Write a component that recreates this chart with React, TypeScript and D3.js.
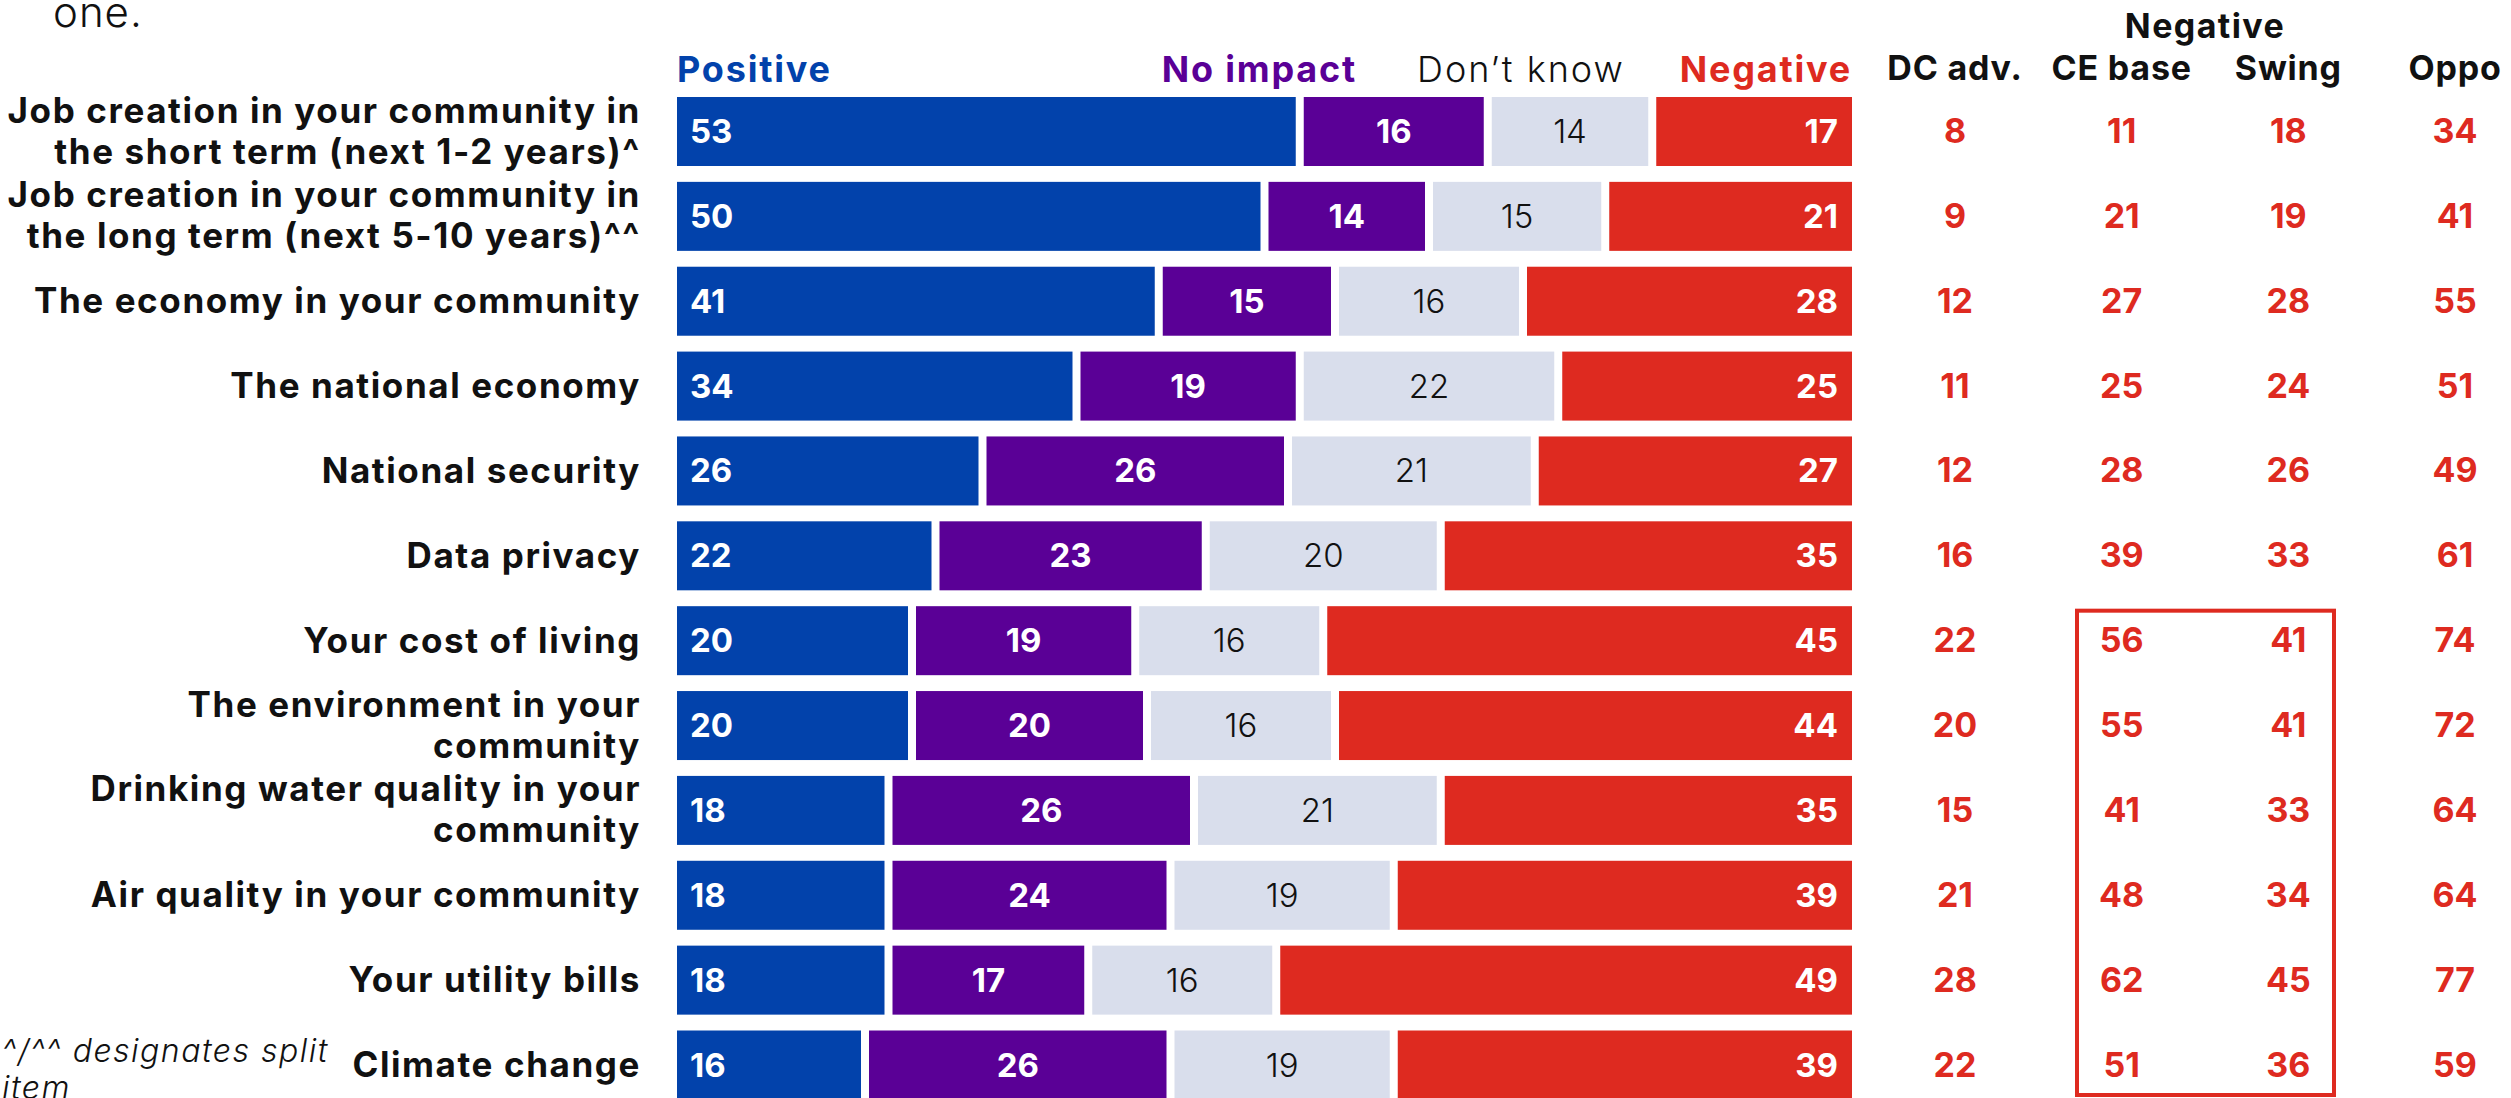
import React from "react";
import * as d3 from "d3";

const labels: string[][] = [
  ["Job creation in your community in", "the short term (next 1-2 years)^"],
  ["Job creation in your community in", "the long term (next 5-10 years)^^"],
  ["The economy in your community"],
  ["The national economy"],
  ["National security"],
  ["Data privacy"],
  ["Your cost of living"],
  ["The environment in your", "community"],
  ["Drinking water quality in your", "community"],
  ["Air quality in your community"],
  ["Your utility bills"],
  ["Climate change"],
];
const positive = [53, 50, 41, 34, 26, 22, 20, 20, 18, 18, 18, 16];
const noImpact = [16, 14, 15, 19, 26, 23, 19, 20, 26, 24, 17, 26];
const dontKnow = [14, 15, 16, 22, 21, 20, 16, 16, 21, 19, 16, 19];
const negative = [17, 21, 28, 25, 27, 35, 45, 44, 35, 39, 49, 39];
const dcAdv = [8, 9, 12, 11, 12, 16, 22, 20, 15, 21, 28, 22];
const ceBase = [11, 21, 27, 25, 28, 39, 56, 55, 41, 48, 62, 51];
const swing = [18, 19, 28, 24, 26, 33, 41, 41, 33, 34, 45, 36];
const oppo = [34, 41, 55, 51, 49, 61, 74, 72, 64, 64, 77, 59];
const segNames = ["Positive", "No impact", "Don\u2019t know", "Negative"];
const colNames = ["DC adv.", "CE base", "Swing", "Oppo"];

const BLUE = "#0242ab";
const PURPLE = "#5a0096";
const GRAY = "#d9deec";
const RED = "#de2a20";
const FONT = "Inter, 'Noto Sans', sans-serif";

export default function App() {
  const W = 2511, H = 1098;
  const x = d3.scaleLinear().domain([0, 100]).range([677, 1852]);
  const y = d3.scalePoint<number>().domain(d3.range(12)).range([131.5, 1065]);
  const colX = d3.scalePoint<number>().domain(d3.range(4)).range([1955, 2455]);
  const barH = 69;
  const gap = 8;
  const series = [positive, noImpact, dontKnow, negative];
  const fills = [BLUE, PURPLE, GRAY, RED];
  const cols = [dcAdv, ceBase, swing, oppo];
  const LS = 1.6;

  return (
    <svg width={W} height={H} style={{ position: "absolute", left: 0, top: 0, background: "#fff" }} fontFamily={FONT}>
      <text x={53} y={27} fontSize={42} fontWeight={300} fill="#111" letterSpacing={1}>one.</text>

      {/* headers */}
      <text x={x(0)} y={82} fontSize={36} fontWeight={700} fill={BLUE} letterSpacing={1.8}>{segNames[0]}</text>
      <text x={1357} y={82} fontSize={36} fontWeight={700} fill={PURPLE} textAnchor="end" letterSpacing={1.8}>{segNames[1]}</text>
      <text x={1417} y={82} fontSize={36} fontWeight={300} fill="#111" letterSpacing={2}>{segNames[2]}</text>
      <text x={x(100)} y={82} fontSize={36} fontWeight={700} fill={RED} textAnchor="end" letterSpacing={1.8}>{segNames[3]}</text>

      <text x={(colX(1)! + colX(2)!) / 2} y={38} fontSize={34} fontWeight={700} fill="#111" textAnchor="middle" letterSpacing={1.4}>Negative</text>
      {colNames.map((c, j) => (
        <text key={c} x={colX(j)} y={80} fontSize={34} fontWeight={700} fill="#111" textAnchor="middle" letterSpacing={0.8}>{c}</text>
      ))}

      {labels.map((lab, i) => {
        const cy = y(i)!;
        let cum = 0;
        return (
          <g key={i}>
            {lab.length === 1 ? (
              <text x={641} y={cy + 12} fontSize={35} fontWeight={700} fill="#111" textAnchor="end" letterSpacing={LS}>{lab[0]}</text>
            ) : (
              <>
                <text x={641} y={cy - 9} fontSize={35} fontWeight={700} fill="#111" textAnchor="end" letterSpacing={LS}>{lab[0]}</text>
                <text x={641} y={cy + 32} fontSize={35} fontWeight={700} fill="#111" textAnchor="end" letterSpacing={LS}>{lab[1]}</text>
              </>
            )}
            {series.map((s, k) => {
              const v = s[i];
              const x0 = x(cum) + (k > 0 ? gap / 2 : 0);
              const x1 = x(cum + v) - (k < 3 ? gap / 2 : 0);
              cum += v;
              let tx = (x0 + x1) / 2;
              let anchor: "start" | "middle" | "end" = "middle";
              if (k === 0) { tx = x0 + 13; anchor = "start"; }
              if (k === 3) { tx = x1 - 14; anchor = "end"; }
              return (
                <g key={k}>
                  <rect x={x0} y={cy - barH / 2} width={x1 - x0} height={barH} fill={fills[k]} />
                  <text x={tx} y={cy + 11.5} fontSize={33} fontWeight={k === 2 ? 300 : 700}
                    fill={k === 2 ? "#111" : "#fff"} textAnchor={anchor}>{v}</text>
                </g>
              );
            })}
            {cols.map((c, j) => (
              <text key={j} x={colX(j)} y={cy + 11.5} fontSize={34} fontWeight={700} fill={RED} textAnchor="middle">{c[i]}</text>
            ))}
          </g>
        );
      })}

      <rect x={2077} y={y(6)! - 30} width={2334 - 2077} height={y(11)! - y(6)! + 60}
        fill="none" stroke={RED} strokeWidth={4} />

      <text x={2} y={1062} fontSize={32} fontWeight={300} fontStyle="italic" fill="#111" letterSpacing={1.5}>^/^^ designates split</text>
      <text x={2} y={1099} fontSize={32} fontWeight={300} fontStyle="italic" fill="#111" letterSpacing={1.5}>item</text>
    </svg>
  );
}
